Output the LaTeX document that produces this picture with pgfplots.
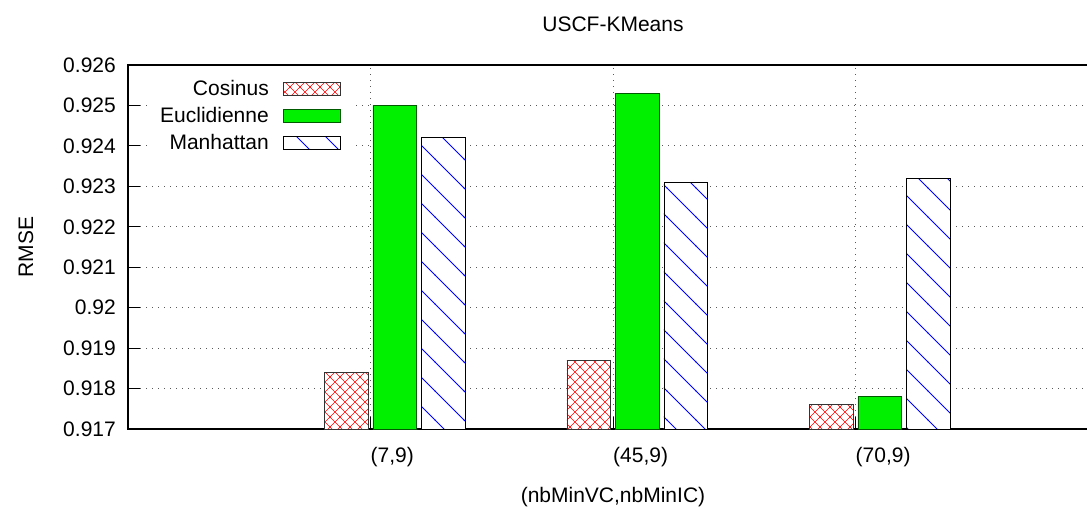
\documentclass[border=0pt]{standalone}
\usepackage{fontspec}
\setmainfont{Liberation Sans}
\usepackage{pgfplots}
\pgfplotsset{compat=1.18}
\usetikzlibrary{patterns}
\definecolor{eucl}{RGB}{0,240,0}
\definecolor{euclborder}{RGB}{0,90,0}
\pgfdeclarepatternformonly{diagcross}{\pgfpoint{-1pt}{-1pt}}{\pgfpoint{11pt}{11pt}}{\pgfpoint{10pt}{10pt}}{%
  \pgfsetlinewidth{0.6pt}%
  \pgfpathmoveto{\pgfpoint{-0.5pt}{-0.5pt}}\pgfpathlineto{\pgfpoint{10.5pt}{10.5pt}}%
  \pgfpathmoveto{\pgfpoint{-0.5pt}{10.5pt}}\pgfpathlineto{\pgfpoint{10.5pt}{-0.5pt}}%
  \pgfusepath{stroke}}
\pgfdeclarepatternformonly{backlines}{\pgfpoint{-1pt}{-1pt}}{\pgfpoint{30pt}{30pt}}{\pgfpoint{29pt}{29pt}}{%
  \pgfsetlinewidth{0.8pt}%
  \pgfpathmoveto{\pgfpoint{-0.5pt}{29.5pt}}\pgfpathlineto{\pgfpoint{29.5pt}{-0.5pt}}%
  \pgfusepath{stroke}}
\begin{document}
\fontsize{21}{25}\selectfont
\begin{tikzpicture}
\begin{axis}[
  at={(128pt,78pt)}, anchor=south west,
  width=970pt, height=364pt, scale only axis,
  xmin=-1.1, xmax=2.9, ymin=0.917, ymax=0.926,
  ytick={0.917,0.918,0.919,0.92,0.921,0.922,0.923,0.924,0.925,0.926},
  yticklabels={0.917,0.918,0.919,0.92,0.921,0.922,0.923,0.924,0.925,0.926},
  xtick={-0.1,0.9,1.9},
  xticklabels={{(7,9)},{(45,9)},{(70,9)}},
  xtick pos=bottom, ytick pos=left,
  tick align=inside, major tick length=12pt,
  tick style={black, line width=0.8pt},
  axis line style={black, line width=1.2pt},
  grid=major,
  major grid style={black!65, line width=0.9pt, dash pattern=on 1pt off 5pt},
  font=\fontsize{21}{25}\selectfont,
  xticklabel style={anchor=north west, inner sep=0pt, yshift=-18pt},
  yticklabel style={anchor=east, inner sep=0pt, xshift=-12pt},
  title={USCF-KMeans},
  title style={at={(axis description cs:0.5,1.0769)}, anchor=base, inner sep=0pt},
  xlabel={(nbMinVC,nbMinIC)},
  xlabel style={at={(axis description cs:0.5,-0.2033)}, anchor=base, inner sep=0pt},
  ylabel={RMSE},
  ylabel style={at={(axis description cs:-0.1052,0.5)}, anchor=center, inner sep=0pt},
  legend plot pos=right,
  legend cell align=right,
  legend image code/.code={\draw[#1] (0pt,-5pt) rectangle (57pt,8pt);},
  legend style={at={(axis description cs:0.0227,0.980)}, anchor=north west,
    draw=none, fill=white, inner xsep=10pt, inner ysep=8pt,
    font=\fontsize{21}{25}\selectfont,
    nodes={inner sep=0pt, text height=15pt, text depth=5pt},
    row sep=7pt,
    /tikz/every odd column/.append style={column sep=14pt}},
]
\addplot[ybar, bar width=0.18, bar shift=0pt, draw=black!80, line width=0.8pt,
  preaction={fill=white}, pattern=diagcross, pattern color=red]
  coordinates {(-0.2,0.9184) (0.8,0.9187) (1.8,0.9176)};
\addlegendentry{Cosinus}
\addplot[ybar, bar width=0.18, bar shift=0pt, draw=euclborder, line width=0.8pt,
  fill=eucl]
  coordinates {(0,0.9250) (1,0.9253) (2,0.9178)};
\addlegendentry{Euclidienne}
\addplot[ybar, bar width=0.18, bar shift=0pt, draw=black, line width=0.8pt,
  preaction={fill=white}, pattern=backlines, pattern color=blue]
  coordinates {(0.2,0.9242) (1.2,0.9231) (2.2,0.9232)};
\addlegendentry{Manhattan}
\end{axis}
\pgfresetboundingbox
\useasboundingbox (0pt,0pt) rectangle (1087pt,507pt);
\end{tikzpicture}
\end{document}
